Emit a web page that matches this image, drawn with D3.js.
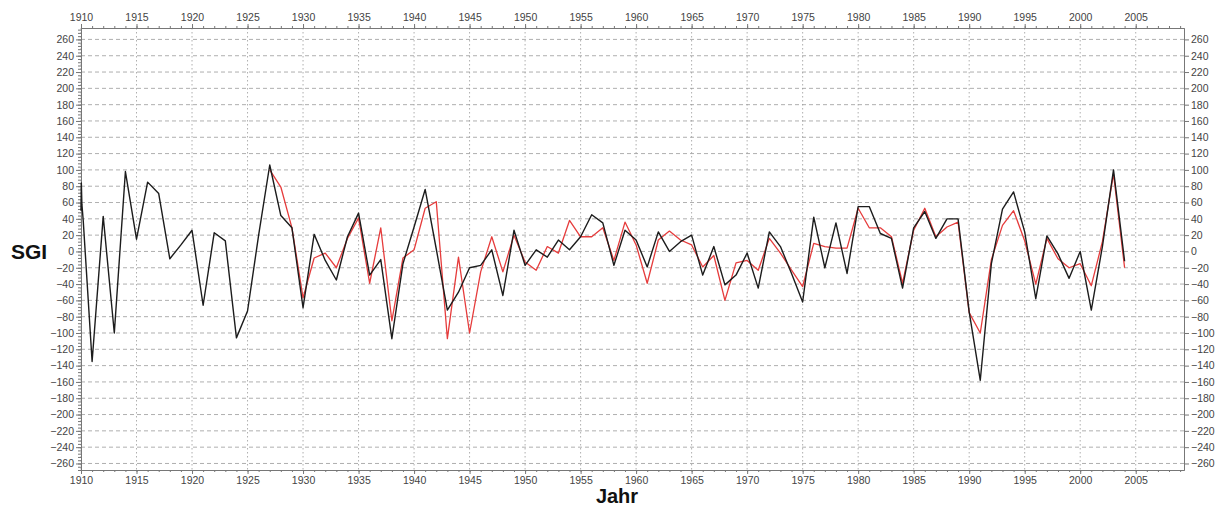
<!DOCTYPE html>
<html>
<head>
<meta charset="utf-8">
<script src="https://cdn.jsdelivr.net/npm/d3@7"></script>
<style>
  body { margin: 0; background: #fff; }
  svg text { font-family: "Liberation Sans", Arial, sans-serif; }
</style>
</head>
<body>
<svg id="chart" width="1224" height="506"></svg>
<script>
// black series (first few points at 1910 are the short wiggle at the start)
const blackYears = [1910, 1910.03, 1910.08, 1910.2,
  1911, 1912, 1913, 1914, 1915, 1916, 1917, 1918, 1919, 1920,
  1921, 1922, 1923, 1924, 1925, 1926, 1927, 1928, 1929, 1930,
  1931, 1932, 1933, 1934, 1935, 1936, 1937, 1938, 1939, 1940,
  1941, 1942, 1943, 1944, 1945, 1946, 1947, 1948, 1949, 1950,
  1951, 1952, 1953, 1954, 1955, 1956, 1957, 1958, 1959, 1960,
  1961, 1962, 1963, 1964, 1965, 1966, 1967, 1968, 1969, 1970,
  1971, 1972, 1973, 1974, 1975, 1976, 1977, 1978, 1979, 1980,
  1981, 1982, 1983, 1984, 1985, 1986, 1987, 1988, 1989, 1990,
  1991, 1992, 1993, 1994, 1995, 1996, 1997, 1998, 1999, 2000,
  2001, 2002, 2003, 2004];
const blackValues = [50, 84, 58, 38,
  -135, 43, -100, 98, 15, 85, 71, -9, 8, 26,
  -66, 23, 13, -106, -73, 20, 106, 44, 29, -69,
  21, -11, -35, 18, 47, -29, -10, -107, -15, 30,
  76, 3, -72, -50, -20, -17, 2, -54, 26, -17,
  2, -7, 14, 2, 18, 45, 35, -17, 26, 14,
  -19, 24, 0, 12, 20, -29, 6, -41, -29, -2,
  -45, 24, 6, -27, -62, 42, -20, 35, -27, 55,
  55, 22, 16, -45, 29, 49, 16, 40, 40, -74,
  -158, -15, 52, 73, 24, -58, 19, -3, -33, 0,
  -72, 6, 100, -12];

// red series
const redYears = [1927, 1928, 1929, 1930,
  1931, 1932, 1933, 1934, 1935, 1936, 1937, 1938, 1939, 1940,
  1941, 1942, 1943, 1944, 1945, 1946, 1947, 1948, 1949, 1950,
  1951, 1952, 1953, 1954, 1955, 1956, 1957, 1958, 1959, 1960,
  1961, 1962, 1963, 1964, 1965, 1966, 1967, 1968, 1969, 1970,
  1971, 1972, 1973, 1974, 1975, 1976, 1977, 1978, 1979, 1980,
  1981, 1982, 1983, 1984, 1985, 1986, 1987, 1988, 1989, 1990,
  1991, 1992, 1993, 1994, 1995, 1996, 1997, 1998, 1999, 2000,
  2001, 2002, 2003, 2004];
const redValues = [100, 79, 29, -57,
  -8, -2, -20, 16, 41, -39, 29, -85, -8, 2,
  53, 61, -107, -7, -100, -25, 18, -25, 20, -13,
  -23, 6, -2, 38, 18, 18, 29, -11, 36, 8,
  -39, 14, 25, 14, 8, -19, -5, -60, -14, -11,
  -23, 16, -2, -23, -43, 10, 6, 4, 4, 53,
  29, 29, 18, -39, 26, 53, 18, 30, 36, -75,
  -100, -10, 32, 50, 13, -40, 16, -9, -20, -15,
  -42, 12, 95, -20];

const yearTicks = [1910, 1915, 1920, 1925, 1930, 1935, 1940, 1945, 1950, 1955,
  1960, 1965, 1970, 1975, 1980, 1985, 1990, 1995, 2000, 2005];
const sgiTicks = [-260, -240, -220, -200, -180, -160, -140, -120, -100, -80, -60, -40, -20,
  0, 20, 40, 60, 80, 100, 120, 140, 160, 180, 200, 220, 240, 260];

const plotLeft = 81, plotRight = 1184, plotTop = 28, plotBottom = 470;

const svg = d3.select("#chart");
const x = d3.scaleLinear().domain([1910, 2009.35]).range([plotLeft, plotRight]);
const y = d3.scaleLinear().domain([-268, 274]).range([plotBottom, plotTop]);

// grid
const grid = svg.append("g").attr("stroke", "#9a9a9a").attr("stroke-width", 0.8);
grid.selectAll("line.h")
  .data(sgiTicks)
  .join("line")
  .attr("class", "h")
  .attr("x1", plotLeft).attr("x2", plotRight)
  .attr("y1", (d) => y(d)).attr("y2", (d) => y(d))
  .attr("stroke-dasharray", "4,3");
grid.selectAll("line.v")
  .data(yearTicks)
  .join("line")
  .attr("class", "v")
  .attr("x1", (d) => x(d)).attr("x2", (d) => x(d))
  .attr("y1", plotTop).attr("y2", plotBottom)
  .attr("stroke-dasharray", "1.5,2.5");

// axes
function styleAxis(g) {
  g.select(".domain").attr("stroke", "#777");
  g.selectAll(".tick line").attr("stroke", "#777");
  g.selectAll(".tick text").attr("fill", "#444").style("font-size", "10.5px");
}

const minorYears = d3.range(1910, 2010, 1);
const minorSgi = d3.range(-268, 274, 4);

svg.append("g")
  .attr("transform", `translate(0,${plotBottom})`)
  .call(d3.axisBottom(x).tickValues(minorYears).tickSize(2).tickFormat("").tickSizeOuter(0))
  .call(styleAxis);
svg.append("g")
  .attr("transform", `translate(0,${plotBottom})`)
  .call(d3.axisBottom(x).tickValues(yearTicks).tickFormat(d3.format("d")).tickSize(4).tickPadding(3).tickSizeOuter(0))
  .call(styleAxis);
svg.append("g")
  .attr("transform", `translate(0,${plotTop})`)
  .call(d3.axisTop(x).tickValues(minorYears).tickSize(2).tickFormat("").tickSizeOuter(0))
  .call(styleAxis);
svg.append("g")
  .attr("transform", `translate(0,${plotTop})`)
  .call(d3.axisTop(x).tickValues(yearTicks).tickFormat(d3.format("d")).tickSize(4).tickPadding(3).tickSizeOuter(0))
  .call(styleAxis);

svg.append("g")
  .attr("transform", `translate(${plotLeft},0)`)
  .call(d3.axisLeft(y).tickValues(minorSgi).tickSize(3).tickFormat("").tickSizeOuter(0))
  .call(styleAxis);
svg.append("g")
  .attr("transform", `translate(${plotLeft},0)`)
  .call(d3.axisLeft(y).tickValues(sgiTicks).tickFormat(d3.format("d")).tickSize(5).tickPadding(2).tickSizeOuter(0))
  .call(styleAxis);
svg.append("g")
  .attr("transform", `translate(${plotRight},0)`)
  .call(d3.axisRight(y).tickValues(sgiTicks).tickFormat(d3.format("d")).tickSize(5).tickPadding(2).tickSizeOuter(0))
  .call(styleAxis);

// series
const line = d3.line().x((d) => x(d[0])).y((d) => y(d[1]));

svg.append("path")
  .datum(d3.zip(redYears, redValues))
  .attr("fill", "none")
  .attr("stroke", "#e63c3c")
  .attr("stroke-width", 1.3)
  .attr("stroke-linejoin", "round")
  .attr("d", line);

svg.append("path")
  .datum(d3.zip(blackYears, blackValues))
  .attr("fill", "none")
  .attr("stroke", "#1c1c1c")
  .attr("stroke-width", 1.4)
  .attr("stroke-linejoin", "round")
  .attr("d", line);

// titles
svg.append("text")
  .attr("x", 11).attr("y", 259)
  .style("font-size", "21px").style("font-weight", "bold")
  .attr("fill", "#111")
  .text("SGI");

svg.append("text")
  .attr("x", 617).attr("y", 503)
  .attr("text-anchor", "middle")
  .style("font-size", "20px").style("font-weight", "bold")
  .attr("fill", "#111")
  .text("Jahr");
</script>
</body>
</html>
